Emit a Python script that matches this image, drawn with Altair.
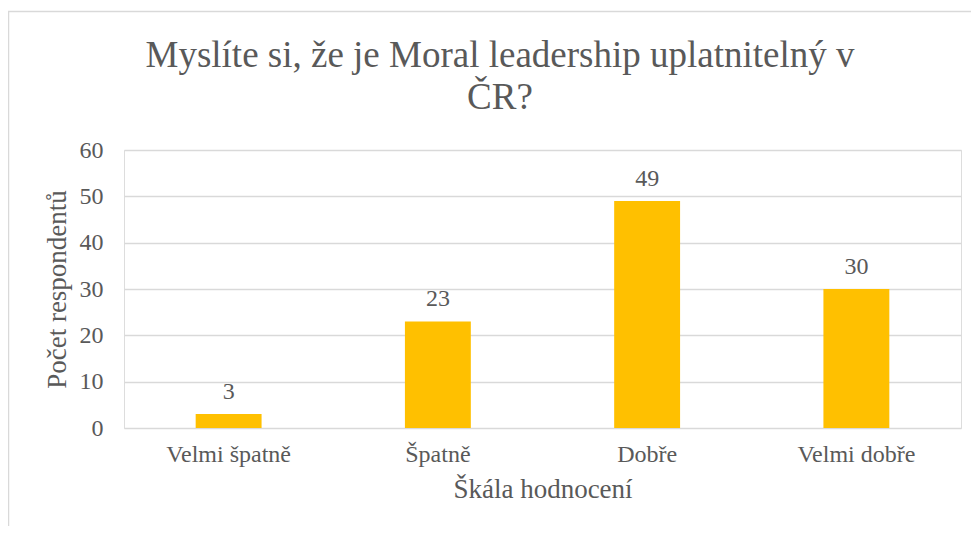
import altair as alt
import pandas as pd

categories = ["Velmi špatně", "Špatně", "Dobře", "Velmi dobře"]
counts = [3, 23, 49, 30]
title_lines = ["Myslíte si, že je Moral leadership uplatnitelný v", "ČR?"]

df = pd.DataFrame({"cat": categories, "n": counts})

FONT = "Liberation Serif"
GREY = "#595959"

base = alt.Chart(df).encode(
    x=alt.X("cat:N", sort=categories,
            scale=alt.Scale(paddingInner=0.685, paddingOuter=0.3425),
            axis=alt.Axis(title="Škála hodnocení", labelAngle=0, ticks=False, domain=False,
                          labelPadding=14, titlePadding=10, labelFontSize=24, titleFontSize=27,
                          labelFont=FONT, titleFont=FONT, labelColor=GREY, titleColor=GREY,
                          titleFontWeight="normal", grid=False)),
    y=alt.Y("n:Q", scale=alt.Scale(domain=[0, 60]),
            axis=alt.Axis(title="Počet respondentů", values=[0, 10, 20, 30, 40, 50, 60],
                          ticks=False, domain=False, labelPadding=21, titlePadding=8,
                          labelFontSize=24, titleFontSize=27, labelFont=FONT, titleFont=FONT,
                          labelColor=GREY, titleColor=GREY, titleFontWeight="normal",
                          gridColor="#D9D9D9", gridWidth=1.5)),
)

bars = base.mark_bar(color="#FFC000")
labels = base.mark_text(baseline="bottom", dy=-10, fontSize=24, font=FONT, color=GREY).encode(
    text="n:Q")

one = alt.Data(values=[{}])
left_rule = alt.Chart(one).mark_rule(color="#D9D9D9", strokeWidth=1.5).encode(
    x=alt.value(-115.5), x2=alt.value(-115.5), y=alt.value(-139), y2=alt.value(400))
top_rule = alt.Chart(one).mark_rule(color="#D9D9D9", strokeWidth=1.5).encode(
    x=alt.value(-116), x2=alt.value(870), y=alt.value(-138.5), y2=alt.value(-138.5))
title = alt.Chart(one).mark_text(fontSize=37, font=FONT, color=GREY, baseline="alphabetic",
                                 align="center", lineHeight=42).encode(
    x=alt.value(376), y=alt.value(-83), text=alt.value(title_lines))

chart = alt.layer(left_rule, top_rule, title, bars, labels).properties(
    width=837, height=278,
    autosize=alt.AutoSizeParams(type="none"),
    padding={"left": 116, "top": 142, "right": 10, "bottom": 98},
).configure_view(stroke=None).configure(background="white")

chart.save("out.html", embed_options={"renderer": "svg", "actions": False})
